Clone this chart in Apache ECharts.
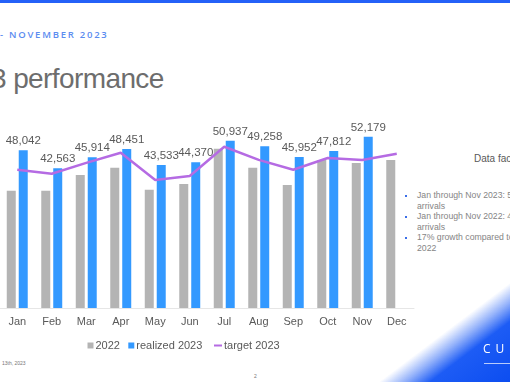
<!DOCTYPE html>
<html>
<head>
<meta charset="utf-8">
<script src="https://cdn.jsdelivr.net/npm/echarts@6/dist/echarts.min.js"></script>
<style>
html,body{margin:0;padding:0;width:510px;height:382px;overflow:hidden;background:#fff;position:relative;font-family:"Liberation Sans",Arial,sans-serif;}
.abs{position:absolute;white-space:nowrap;}
#chart{position:absolute;left:0;top:0;width:510px;height:382px;z-index:2;}
</style>
</head>
<body>
<div class="abs" style="left:0;top:0;width:510px;height:2.5px;background:#2461f8;"></div>
<div class="abs" style="left:0;top:30px;font-family:'Open Sans',sans-serif;font-weight:600;font-size:9.5px;line-height:10px;letter-spacing:1.75px;color:#5b8cf0;">- NOVEMBER 2023</div>
<div class="abs" style="left:-9px;top:65px;font-size:28px;line-height:28px;letter-spacing:-0.6px;color:#6d6d6d;">3 performance</div>
<div class="abs" style="left:474px;top:153px;font-size:10px;line-height:12px;color:#595959;">Data facts</div>
<div class="abs" style="left:405px;top:195px;width:2px;height:2px;background:#3a6ee8;"></div>
<div class="abs" style="left:405px;top:216px;width:2px;height:2px;background:#3a6ee8;"></div>
<div class="abs" style="left:405px;top:237px;width:2px;height:2px;background:#3a6ee8;"></div>
<div class="abs" style="left:417px;top:190px;font-size:8.7px;line-height:10.6px;color:#858585;">Jan through Nov 2023: 5<br>arrivals<br>Jan through Nov 2022: 4<br>arrivals<br>17% growth compared to<br>2022</div>
<div class="abs" style="left:2px;top:360px;font-size:5px;line-height:6px;color:#777;">13th, 2023</div>
<div class="abs" style="left:254px;top:373px;font-size:5px;line-height:6px;color:#777;">2</div>
<div class="abs" style="left:350px;top:261px;width:160px;height:121px;background:linear-gradient(to bottom right, rgba(29,92,245,0) 0%, rgba(29,92,245,0) 59%, rgba(40,100,246,0.5) 67%, #1d5cf5 75%, #0c4df0 100%);z-index:3;"></div>
<div class="abs" style="left:483px;top:342px;font-size:12px;line-height:14px;letter-spacing:5px;color:#fff;z-index:4;font-family:'Open Sans',sans-serif;">CU</div>
<div class="abs" style="left:484px;top:363px;width:26px;height:1px;background:rgba(255,255,255,0.7);z-index:4;"></div>
<div id="chart"></div>
<script>
var months = ['Jan','Feb','Mar','Apr','May','Jun','Jul','Aug','Sep','Oct','Nov','Dec'];
var values2022 = [35700, 35700, 40500, 42700, 36000, 37800, 48500, 42700, 37500, 45100, 44200, 45100];
var realized2023 = [48042, 42563, 45914, 48451, 43533, 44370, 50937, 49258, 45952, 47812, 52179, null];
var target2023 = [42100, 40900, 44200, 47300, 39000, 40200, 49100, 45100, 42100, 45700, 45100, 47000];

var chart = echarts.init(document.getElementById('chart'), null, {renderer:'canvas'});
var txt = {fontFamily:'Liberation Sans', fontSize:11, color:'#595959'};
chart.setOption({
  backgroundColor: 'transparent',
  animation: false,
  grid: {left: -8, right: 96, top: 111, bottom: 74, containLabel: false},
  xAxis: {
    type: 'category', data: months,
    axisLine: {show: true, lineStyle: {color: '#e6e6e6', width: 1}},
    axisTick: {show: false},
    axisLabel: Object.assign({margin: 8}, txt)
  },
  yAxis: {type: 'value', min: 0, max: 60000, show: false, splitLine: {show: false}},
  legend: [
    {data: [{name:'2022', icon:'rect'}], left: 82.5, top: 335, itemWidth: 6, itemHeight: 6, textStyle: Object.assign({padding:[0,0,0,-3]}, txt)},
    {data: [{name:'realized 2023', icon:'rect'}], left: 123.3, top: 335, itemWidth: 6, itemHeight: 6, textStyle: Object.assign({padding:[0,0,0,-3]}, txt)},
    {data: [{name:'target 2023', icon:'rect'}], left: 209, top: 335, itemWidth: 8, itemHeight: 2, textStyle: Object.assign({padding:[0,0,0,-3]}, txt)}
  ],
  series: [
    {name: '2022', type: 'bar', data: values2022, barWidth: 9, barGap: '33%', itemStyle: {color: '#b4b4b4'}},
    {name: 'realized 2023', type: 'bar', data: realized2023, barWidth: 9, itemStyle: {color: '#3399ff'},
      label: {show: true, position: 'top', distance: 3, fontFamily: 'Liberation Sans', fontSize: 11.5, color: '#595959',
        formatter: function(p){ return p.value == null ? '' : p.value.toLocaleString('en-US'); }}},
    {name: 'target 2023', type: 'line', data: target2023, symbol: 'none', z: 5,
      lineStyle: {color: '#b56be3', width: 2.5}, itemStyle: {color: '#b56be3'}}
  ]
});
</script>
</body>
</html>
